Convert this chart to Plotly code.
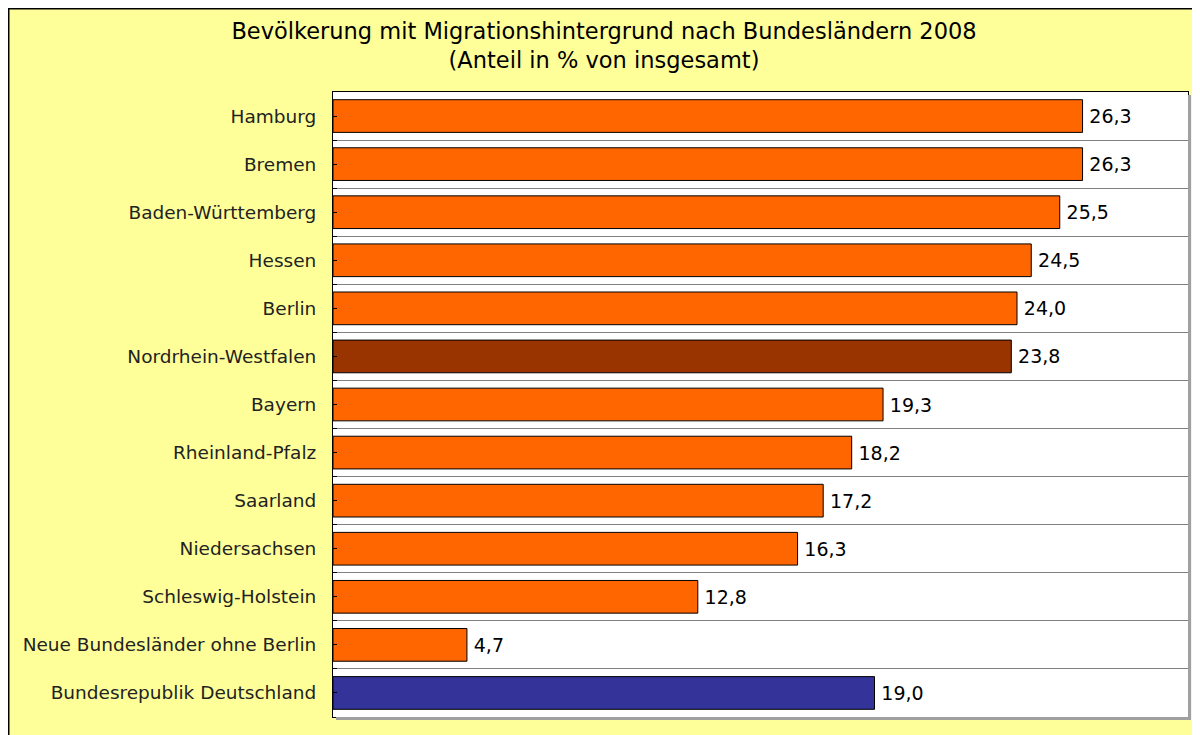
import plotly.graph_objects as go

categories = [
    "Hamburg", "Bremen", "Baden-Württemberg", "Hessen", "Berlin",
    "Nordrhein-Westfalen", "Bayern", "Rheinland-Pfalz", "Saarland",
    "Niedersachsen", "Schleswig-Holstein", "Neue Bundesländer ohne Berlin",
    "Bundesrepublik Deutschland",
]
values = [26.3, 26.3, 25.5, 24.5, 24.0, 23.8, 19.3, 18.2, 17.2, 16.3, 12.8, 4.7, 19.0]
bar_colors = ["#FF6600"] * 5 + ["#993300"] + ["#FF6600"] * 6 + ["#333399"]

positions = list(range(len(categories)))

# page has an 8px body margin, so the figure is 1192x727 placed at (8, 8)
W, H = 1192, 727
ML, MR, MT, MB = 325, 12, 84, 18
PW, PH = W - ML - MR, H - MT - MB

def px_x(p):
    return (p - ML) / PW

def px_y(p):
    return (H - MB - p) / PH

fig = go.Figure()
fig.add_trace(go.Bar(
    x=values, y=positions, orientation="h",
    marker=dict(color=bar_colors, line=dict(color="#000000", width=1)),
    width=0.68,
    text=values, texttemplate="\u2009%{x:.1f}", textposition="outside",
    textfont=dict(family="DejaVu Sans", size=19, color="#000000"),
    cliponaxis=False, hoverinfo="skip",
))

shapes = [
    # chart frame
    dict(type="rect", xref="paper", yref="paper", x0=px_x(0.75), x1=px_x(W + 10), y0=px_y(H + 10), y1=px_y(0.75),
         fillcolor="rgba(0,0,0,0)", line=dict(color="#000000", width=1.5)),
    # plot area shadow
    dict(type="rect", xref="paper", yref="paper", x0=1, x1=px_x(ML + PW + 3), y0=px_y(MT + PH + 3), y1=px_y(MT + 3),
         fillcolor="#A0A0A0", line=dict(width=0)),
    dict(type="rect", xref="paper", yref="paper", x0=px_x(ML + 3), x1=px_x(ML + PW + 3), y0=px_y(MT + PH + 3), y1=0,
         fillcolor="#A0A0A0", line=dict(width=0)),
]

fig.update_layout(
    width=W, height=H,
    margin=dict(l=ML, r=MR, t=MT, b=MB, pad=0),
    paper_bgcolor="#FFFF99", plot_bgcolor="#FFFFFF",
    separators=",.",
    showlegend=False,
    title=dict(
        text="Bevölkerung mit Migrationshintergrund nach Bundesländern 2008<br>(Anteil in % von insgesamt)",
        x=(604 - 8) / W, xanchor="center", yref="container", y=1 - 31 / H, yanchor="top",
        font=dict(family="DejaVu Sans", size=22.5, color="#000000"),
    ),
    shapes=shapes,
    xaxis=dict(range=[0, 30], showticklabels=False, ticks="", showgrid=False, zeroline=False,
               showline=True, mirror=True, linecolor="#000000", linewidth=1),
    yaxis=dict(range=[len(categories) - 0.5, -0.5], tickmode="array", tickvals=positions, ticktext=categories,
               showgrid=False, zeroline=False, showline=True, mirror=True, linecolor="#000000", linewidth=1,
               ticks="inside", ticklen=4, tickcolor="#000000", ticklabelstandoff=12,
               tickfont=dict(family="DejaVu Sans", size=18.5, color="#222222"),
               minor=dict(tickmode="linear", tick0=0.5, dtick=1, showgrid=True, gridcolor="#808080",
                          gridwidth=1, ticks="inside", ticklen=4, tickcolor="#000000")),
)

fig.write_html("out.html")
